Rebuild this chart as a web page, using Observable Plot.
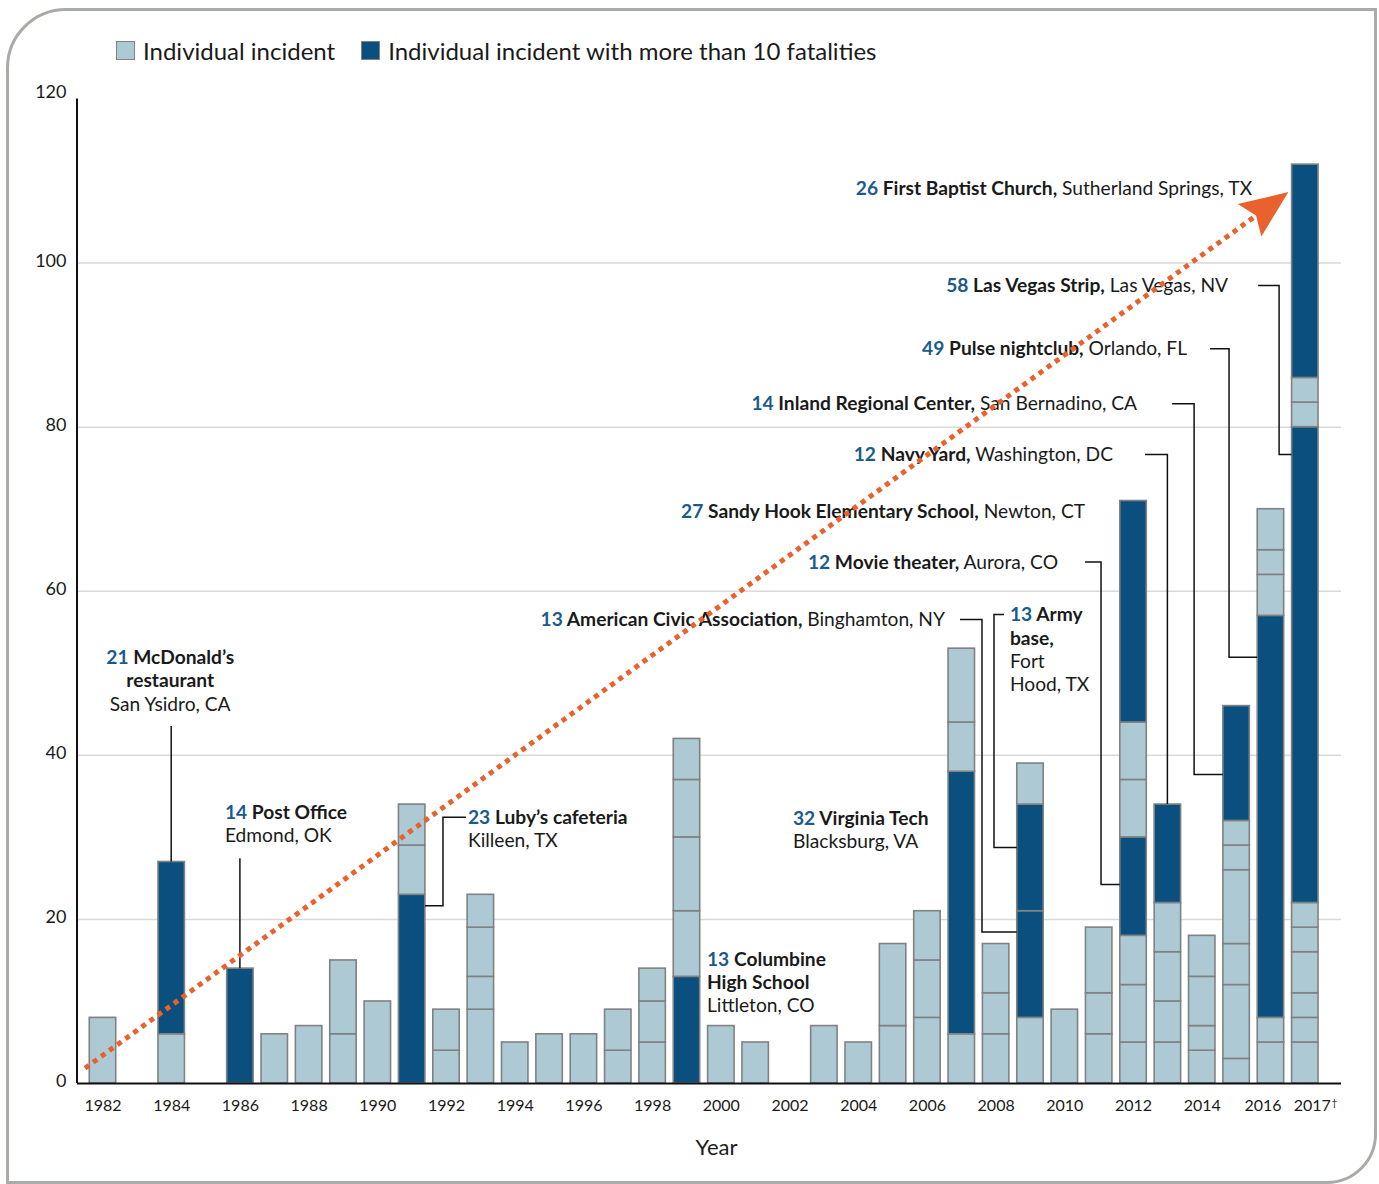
<!DOCTYPE html>
<html>
<head>
<meta charset="utf-8">
<script src="https://cdn.jsdelivr.net/npm/d3@7"></script>
<script src="https://cdn.jsdelivr.net/npm/@observablehq/plot@0.6"></script>
<style>
  body { margin: 0; background: #fff; font-family: Lato, "Noto Sans", sans-serif; color: #1a1a1a; }
  #wrap { position: relative; width: 1379px; height: 1184px; overflow: hidden; background: #fff; }
  #frame { position: absolute; left: 6px; top: 8px; width: 1371px; height: 1176px; box-sizing: border-box;
           border: 3px solid #a9aba7; border-radius: 60px 0 50px 0; pointer-events: none; }
  #legend { position: absolute; left: 116px; top: 36px; height: 28px; display: flex; align-items: center;
            font-size: 24px; color: #1a1a1a; white-space: nowrap; }
  #legend .sw { width: 17px; height: 17px; border: 1.5px solid #7f8283; margin-right: 8px; }
  #legend .item { display: flex; align-items: center; margin-right: 26px; }
  #chart { position: absolute; left: 0; top: 70px; }
</style>
</head>
<body>
<div id="wrap">
  <div id="legend"></div>
  <div id="chart"></div>
  <div id="frame"></div>
</div>
<script>
// Years on the x axis (every year gets a band, even when empty)
const years = ["1982","1983","1984","1985","1986","1987","1988","1989","1990","1991",
               "1992","1993","1994","1995","1996","1997","1998","1999","2000","2001",
               "2002","2003","2004","2005","2006","2007","2008","2009","2010","2011",
               "2012","2013","2014","2015","2016","2017"];

// Fatalities of each incident, stacked bottom to top within the year
const fatalities = [
  [8],                              // 1982
  [],                               // 1983
  [6, 21],                          // 1984
  [],                               // 1985
  [14],                             // 1986
  [6],                              // 1987
  [7],                              // 1988
  [6, 9],                           // 1989
  [10],                             // 1990
  [23, 6, 5],                       // 1991
  [4, 5],                           // 1992
  [9, 4, 6, 4],                     // 1993
  [5],                              // 1994
  [6],                              // 1995
  [6],                              // 1996
  [4, 5],                           // 1997
  [5, 5, 4],                        // 1998
  [13, 8, 9, 7, 5],                 // 1999
  [7],                              // 2000
  [5],                              // 2001
  [],                               // 2002
  [7],                              // 2003
  [5],                              // 2004
  [7, 10],                          // 2005
  [8, 7, 6],                        // 2006
  [6, 32, 6, 9],                    // 2007
  [6, 5, 6],                        // 2008
  [8, 13, 13, 5],                   // 2009
  [9],                              // 2010
  [6, 5, 8],                        // 2011
  [5, 7, 6, 12, 7, 7, 27],          // 2012
  [5, 5, 6, 6, 12],                 // 2013
  [4, 3, 6, 5],                     // 2014
  [3, 9, 5, 9, 3, 3, 14],           // 2015
  [5, 3, 49, 5, 3, 5],              // 2016
  [5, 3, 3, 5, 3, 3, 58, 3, 3, 26]  // 2017
];

// Incidents with more than 10 fatalities are drawn dark
const majorThreshold = 10;

// Axis ticks
const yTicks = [0, 20, 40, 60, 80, 100];
const yTopTick = [120];
const gridValues = [20, 40, 60, 80, 100];
const xTickYears = ["1982","1984","1986","1988","1990","1992","1994","1996","1998","2000",
                    "2002","2004","2006","2008","2010","2012","2014"];

// Labelled incidents: year, position of the incident in that year's stack, name, place
const noteYears  = ["1984","1986","1991","1999","2007","2009","2009","2012","2012","2013","2015","2016","2017","2017"];
const noteIndex  = [1, 0, 0, 0, 1, 1, 2, 3, 6, 4, 6, 2, 6, 9];
const noteNames  = ["McDonald’s\nrestaurant", "Post Office", "Luby’s cafeteria", "Columbine\nHigh School",
                    "Virginia Tech", "American Civic Association,", "Army\nbase,", "Movie theater,",
                    "Sandy Hook Elementary School,", "Navy Yard,", "Inland Regional Center,",
                    "Pulse nightclub,", "Las Vegas Strip,", "First Baptist Church,"];
const notePlaces = ["San Ysidro, CA", "Edmond, OK", "Killeen, TX", "Littleton, CO", "Blacksburg, VA",
                    "Binghamton, NY", "Fort\nHood, TX", "Aurora, CO", "Newton, CT", "Washington, DC",
                    "San Bernadino, CA", "Orlando, FL", "Las Vegas, NV", "Sutherland Springs, TX"];

// Legend entries
const legendLabels = ["Individual incident", "Individual incident with more than 10 fatalities"];

const LIGHT = "#adc9d3", DARK = "#0b4f7f", EDGE = "#7f8283";
const ORANGE = "#e9612c", NUMBLUE = "#1b5b8c", INK = "#1a1a1a";

// ---- legend
const legend = document.getElementById("legend");
legendLabels.forEach((label, i) => {
  const item = document.createElement("div");
  item.className = "item";
  const sw = document.createElement("div");
  sw.className = "sw";
  sw.style.background = i === 0 ? LIGHT : DARK;
  item.appendChild(sw);
  item.appendChild(document.createTextNode(label));
  legend.appendChild(item);
});

// ---- table of stacked incidents
const rows = years.flatMap((year, i) =>
  fatalities[i].map((value, k) => ({year, value, k, kind: value > majorThreshold ? "major" : "minor"})));

const W = 1379, H = 1114;
const chart = Plot.plot({
  width: W,
  height: H,
  marginLeft: 77,
  marginRight: 38,
  marginTop: 28.5,
  marginBottom: 101,
  style: {fontFamily: "Lato, 'Noto Sans', sans-serif", background: "transparent", color: INK, overflow: "visible"},
  x: {type: "band", domain: years, range: [72.1, 1335.2], paddingInner: 0.23, paddingOuter: 0.5, round: false, axis: null},
  y: {domain: [0, 120], axis: null},
  color: {domain: ["minor", "major"], range: [LIGHT, DARK]},
  marks: [
    Plot.ruleY(gridValues, {stroke: "#d9d9d9", strokeWidth: 1.5}),
    Plot.barY(rows, Plot.stackY({x: "year", y: "value", fill: "kind", stroke: EDGE, strokeWidth: 1.6, inset: 0})),
    Plot.ruleY([0], {stroke: "#111", strokeWidth: 2}),
    Plot.text(yTicks, {y: d => d, frameAnchor: "left", dx: -11, dy: -2, textAnchor: "end", fontSize: 18, fill: INK}),
    Plot.text(yTopTick, {y: d => d, frameAnchor: "left", dx: -11, dy: -7, textAnchor: "end", fontSize: 18, fill: INK}),
    Plot.text(xTickYears, {x: d => d, frameAnchor: "bottom", dy: 27, fontSize: 16, fill: INK}),
    Plot.text(["2016"], {x: d => d, frameAnchor: "bottom", dy: 27, dx: -8, fontSize: 16, fill: INK}),
    Plot.text(["2017"], {x: d => d, frameAnchor: "bottom", dy: 27, dx: 7, fontSize: 16, fill: INK}),
    Plot.text(["2017"], {x: d => d, text: () => "†", frameAnchor: "bottom", dy: 22, dx: 29, fontSize: 10, fill: INK}),
    Plot.text(["Year"], {frameAnchor: "bottom", dy: 71, dx: 7, fontSize: 22, fill: INK})
  ]
});
document.getElementById("chart").appendChild(chart);

// ---- annotations drawn with the plot's own scales
const sx = chart.scale("x"), sy = chart.scale("y");
const bw = sx.bandwidth;
const cx = yr => sx.apply(yr) + bw / 2;
const Y = v => sy.apply(v);
const segBottom = (yr, k) => d3.sum(fatalities[years.indexOf(yr)].slice(0, k));
const segTop = (yr, k) => segBottom(yr, k) + fatalities[years.indexOf(yr)][k];

const svg = d3.select(chart);
const g = svg.append("g");

// y axis line
g.append("line")
  .attr("x1", 77).attr("x2", 77)
  .attr("y1", Y(120)).attr("y2", Y(0))
  .attr("stroke", "#111").attr("stroke-width", 2);

// text placement of each note: anchor, offset from band centre (px), value of first line
const noteLayout = [
  {anchor: "middle", dx: -1,     v: 51.9, inline: false},
  {anchor: "start",  dx: -15,    v: 33.0, inline: false},
  {anchor: "start",  dx: 56.3,   v: 32.4, inline: false},
  {anchor: "start",  dx: 20.5,   v: 15.1, inline: false},
  {anchor: "start",  dx: -168.3, v: 32.3, inline: false},
  {anchor: "end",    dx: -85,    v: 56.5, inline: true},
  {anchor: "start",  dx: -20,    v: 57.1, inline: false},
  {anchor: "end",    dx: -75,    v: 63.5, inline: true},
  {anchor: "end",    dx: -48,    v: 69.7, inline: true},
  {anchor: "end",    dx: -54.4,  v: 76.6, inline: true},
  {anchor: "end",    dx: -99,    v: 82.8, inline: true},
  {anchor: "end",    dx: -83.4,  v: 89.5, inline: true},
  {anchor: "end",    dx: -76.7,  v: 97.2, inline: true},
  {anchor: "end",    dx: -52.7,  v: 109.1, inline: true}
];

// leader lines: points as [dx from band centre | "L" | "R", value | "T"]
const leaders = {
  0: [[0, 43.5], [0, "T"]],
  1: [[0, 27.4], [0, "T"]],
  2: [[54.3, 32.4], [31.3, 32.4], [31.3, 21.6], ["R", 21.6]],
  5: [[-70, 56.5], [-48, 56.5], [-48, 18.4], ["L", 18.4]],
  6: [[-26, 57.1], [-36, 57.1], [-36, 28.7], ["L", 28.7]],
  7: [[-48, 63.5], [-32, 63.5], [-32, 24.2], ["L", 24.2]],
  9: [[-22.4, 76.6], [0, 76.6], [0, "T"]],
  10: [[-64, 82.8], [-42, 82.8], [-42, 37.6], ["L", 37.6]],
  11: [[-60.4, 89.5], [-41.4, 89.5], [-41.4, 51.9], ["L", 51.9]],
  12: [[-46.7, 97.2], [-25.7, 97.2], [-25.7, 76.6], ["L", 76.6]]
};

const FS = 19.2, LH = 23.3;
const leaderG = g.append("g").attr("fill", "none").attr("stroke", "#111").attr("stroke-width", 1.5);
Object.entries(leaders).forEach(([i, pts]) => {
  const yr = noteYears[i], k = noteIndex[i];
  const c = cx(yr);
  const path = pts.map(([dx, v]) => {
    const x = dx === "L" ? c - bw / 2 : dx === "R" ? c + bw / 2 : c + dx;
    const y = v === "T" ? Y(segTop(yr, k)) : Y(v);
    return [x, y];
  });
  leaderG.append("path").attr("d", d3.line()(path));
});

const textG = g.append("g").attr("font-size", FS).attr("fill", INK);
noteYears.forEach((yr, i) => {
  const lay = noteLayout[i];
  const value = fatalities[years.indexOf(yr)][noteIndex[i]];
  const nameLines = noteNames[i].split("\n");
  const placeLines = notePlaces[i].split("\n");
  const lines = [];
  lines.push([{t: String(value), c: "num"}, {t: " " + nameLines[0], c: "b"}]);
  nameLines.slice(1).forEach(s => lines.push([{t: s, c: "b"}]));
  if (lay.inline) lines[lines.length - 1].push({t: " " + placeLines.join(" "), c: "r"});
  else placeLines.forEach(s => lines.push([{t: s, c: "r"}]));
  const x = cx(yr) + lay.dx, y0 = Y(lay.v);
  lines.forEach((parts, j) => {
    const t = textG.append("text")
      .attr("x", x).attr("y", y0 + j * LH).attr("dy", "0.35em")
      .attr("text-anchor", lay.anchor);
    parts.forEach(p => {
      t.append("tspan").text(p.t)
        .attr("font-weight", p.c === "r" ? 400 : 700)
        .attr("fill", p.c === "num" ? NUMBLUE : INK);
    });
  });
});

// orange dotted trend arrow from 1982 to 2017
const arrowFrom = {year: "1982", dx: -17.5, v: 1.8};
const arrowTo = {year: "2017", dx: -16.4, v: 108.6};
const p0 = [cx(arrowFrom.year) + arrowFrom.dx, Y(arrowFrom.v)];
const p1 = [cx(arrowTo.year) + arrowTo.dx, Y(arrowTo.v)];
const ang = Math.atan2(p1[1] - p0[1], p1[0] - p0[0]);
const headLen = 48, headHalf = 20;
const ux = Math.cos(ang), uy = Math.sin(ang);
const base = [p1[0] - ux * headLen, p1[1] - uy * headLen];
g.append("line")
  .attr("x1", p0[0]).attr("y1", p0[1])
  .attr("x2", base[0] + ux * 6).attr("y2", base[1] + uy * 6)
  .attr("stroke", ORANGE).attr("stroke-width", 5).attr("stroke-dasharray", "5 5");
g.append("path")
  .attr("d", d3.line()([
    p1,
    [base[0] - uy * headHalf, base[1] + ux * headHalf],
    [base[0] + ux * 8, base[1] + uy * 8],
    [base[0] + uy * headHalf, base[1] - ux * headHalf]
  ]) + "Z")
  .attr("fill", ORANGE);
</script>
</body>
</html>
